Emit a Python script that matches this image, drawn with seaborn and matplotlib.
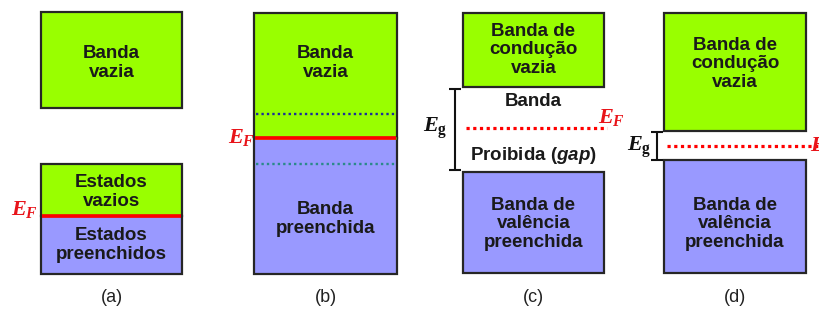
import numpy as np
import pandas as pd
import seaborn as sns
import matplotlib
matplotlib.use("Agg")
import matplotlib.pyplot as plt

# band diagram values, in picture rows (0 = top of the figure)
panels = ["(a)", "(b)", "(c)", "(d)"]
box_left = [41, 254, 463, 664]
box_right = [182, 397, 604, 806]

empty_top = [12, 13, 13, 13]          # empty (green) band
empty_bottom = [108, 138, 87, 131]
partial_top = [164, None, None, None]  # (a): partly filled band, empty part
filled_top = [216, 138, 172, 160]     # filled (blue) band
filled_bottom = [274, 274, 273, 273]
fermi = [216, 138, 128, 146]
fermi_style = ["solid", "solid", "dotted", "dotted"]
fermi_end = [182, 397, 607, 820]

empty_text = ["Banda\nvazia", "Banda\nvazia", "Banda de\ncondução\nvazia", "Banda de\ncondução\nvazia"]
empty_text_y = [63, 63, 50, 64]
filled_text = ["Estados\npreenchidos", "Banda\npreenchida", "Banda de\nvalência\npreenchida", "Banda de\nvalência\npreenchida"]
filled_text_y = [245, 219, 224, 224]

# (b): levels near E_F
level_rows = [114, 164]
level_colors = ["#1c2c9c", "#2b8a8a"]

GREEN = "#99ff00"
BLUE = "#9999ff"
EDGE = "#262626"
RED = "#ff0000"

sns.set_theme(style="white")
plt.rcParams["font.family"] = ["Liberation Sans", "DejaVu Sans"]
plt.rcParams["mathtext.fontset"] = "custom"
plt.rcParams["mathtext.it"] = "Liberation Serif:italic:bold"
plt.rcParams["mathtext.rm"] = "Liberation Serif:bold"
plt.rcParams["mathtext.sf"] = "Liberation Sans:italic:bold"

fig = plt.figure(figsize=(8.2, 3.16), dpi=100)
ax = fig.add_axes([0, 0, 1, 1])
ax.set_xlim(0, 820)
ax.set_ylim(316, 0)
ax.axis("off")

df = pd.DataFrame({"panel": panels, "left": box_left, "right": box_right,
                   "etop": empty_top, "ebot": empty_bottom,
                   "ftop": filled_top, "fbot": filled_bottom, "ef": fermi})
df["center"] = (df.left + df.right) / 2
df["width"] = df.right - df.left

# empty bands
ax.bar(df.center, df.ebot - df.etop, bottom=df.etop, width=df.width,
       color=GREEN, edgecolor=EDGE, linewidth=1.6, zorder=2)
# filled bands
ax.bar(df.center, df.fbot - df.ftop, bottom=df.ftop, width=df.width,
       color=BLUE, edgecolor=EDGE, linewidth=1.6, zorder=2)
# empty part of the half-filled band in (a)
for i, t in enumerate(partial_top):
    if t is not None:
        ax.bar(df.center[i], filled_top[i] - t, bottom=t, width=df.width[i],
               color=GREEN, edgecolor=EDGE, linewidth=1.6, zorder=2)

# (b) is one continuous band: hide the edge between green and blue
ax.hlines(fermi[1], box_left[1] + 1, box_right[1] - 1, color=GREEN, lw=1.8, zorder=3)
for row, col in zip(level_rows, level_colors):
    ax.hlines(row, box_left[1] + 2, box_right[1] - 2, color=col, lw=1.7,
              linestyles=(0, (1, 1.3)), zorder=4)

# Fermi levels
for i in range(4):
    if fermi_style[i] == "solid":
        ax.hlines(fermi[i], box_left[i] + 1, fermi_end[i] - 1, color=RED, lw=2.6, zorder=5)
    else:
        ax.hlines(fermi[i], box_left[i] + 3, fermi_end[i], color=RED, lw=2.3,
                  linestyles=(0, (1, 1.1)), zorder=5)

# band texts
tkw = dict(ha="center", va="center", fontsize=13.5, fontweight="bold",
           color="#1a1a1a", linespacing=1.12, zorder=6)
for i in range(4):
    ax.text(df.center[i], empty_text_y[i], empty_text[i], **tkw)
    ax.text(df.center[i], filled_text_y[i], filled_text[i], **tkw)
ax.text(df.center[0], 192, "Estados\nvazios", **tkw)
ax.text(df.center[2], 102, "Banda", **tkw)
ax.text(df.center[2], 156, "Proibida ($\\mathsf{gap}$)", **tkw)

# E_F labels
efkw = dict(color="#e8141a", fontsize=16, va="center", zorder=6)
ax.text(11, 210, "$E_F$", ha="left", **efkw)
ax.text(228, 137, "$E_F$", ha="left", **efkw)
ax.text(598, 118, "$E_F$", ha="left", **efkw)
ax.text(810, 146, "$E_F$", ha="left", **efkw)

# gap brackets
gap_x = [455, 657]
gap_top = [89, 132]
gap_bot = [170, 160]
for x, t, b in zip(gap_x, gap_top, gap_bot):
    ax.vlines(x, t, b, color="#111111", lw=1.5, zorder=6)
    ax.hlines([t, b], x - 6, x + 6, color="#111111", lw=1.5, zorder=6)
ax.text(435, 128, "$E_\\mathrm{g}$", ha="center", va="center", fontsize=16, color="#111111")
ax.text(639, 147, "$E_\\mathrm{g}$", ha="center", va="center", fontsize=16, color="#111111")

# panel labels
for i in range(4):
    ax.text(df.center[i], 298, panels[i], ha="center", va="center",
            fontsize=13, color="#222222")

fig.savefig("out.png", dpi=100)
